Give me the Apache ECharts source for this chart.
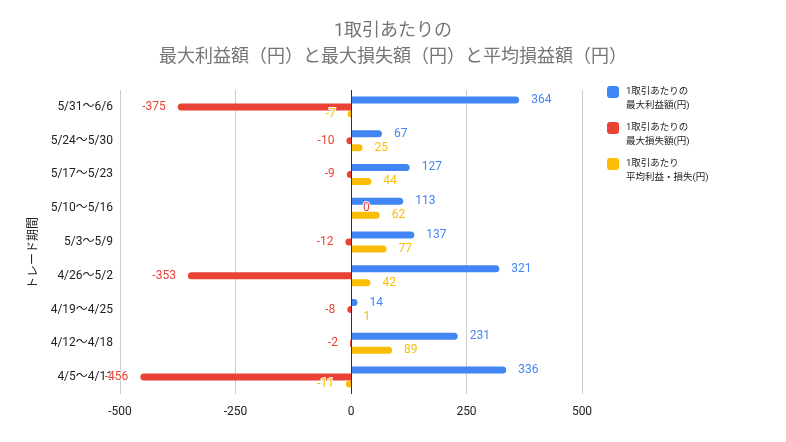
<!DOCTYPE html>
<html>
<head>
<meta charset="utf-8">
<script src="https://cdn.jsdelivr.net/npm/echarts@6/dist/echarts.min.js"></script>
<style>
  html, body { margin: 0; padding: 0; background: #fff; }
  #chart { width: 786px; height: 442px; }
</style>
</head>
<body>
<div id="chart"></div>
<script>
const periods = ["5/31〜6/6", "5/24〜5/30", "5/17〜5/23", "5/10〜5/16", "5/3〜5/9", "4/26〜5/2", "4/19〜4/25", "4/12〜4/18", "4/5〜4/11"];
const maxProfit = [364, 67, 127, 113, 137, 321, 14, 231, 336];
const maxLoss = [-375, -10, -9, 0, -12, -353, -8, -2, -456];
const avgProfitLoss = [-7, 25, 44, 62, 77, 42, 1, 89, -11];
// leading blank line so the legend icon lines up with the first text line
const seriesNames = ["\n1取引あたりの\n最大利益額(円)", "\n1取引あたりの\n最大損失額(円)", "\n1取引あたり\n平均利益・損失(円)"];
const seriesColors = ["#4285f4", "#ea4335", "#fbbc04"];

const fontFamily = "Roboto, 'Noto Sans CJK JP', sans-serif";
const chart = echarts.init(document.getElementById("chart"));

function barData(values) {
  return values.map((v) => {
    const neg = v < 0;
    return {
      value: v,
      itemStyle: { borderRadius: neg ? [4, 0, 0, 4] : [0, 4, 4, 0] },
      label: { position: neg ? "left" : "right" },
    };
  });
}

function makeSeries(name, values, color, idx) {
  const s = {
    name: name,
    type: "bar",
    data: barData(values),
    barWidth: 7,
    barGap: "0%",
    itemStyle: { color: color },
    label: {
      show: true,
      distance: 12,
      color: color,
      fontSize: 12,
      fontFamily: fontFamily,
      textBorderColor: "#fff",
      textBorderWidth: 2,
    },
  };
  if (idx === 0) {
    // zero line drawn separately since the category labels sit at the left
    s.markLine = {
      silent: true,
      symbol: "none",
      label: { show: false },
      lineStyle: { color: "#333", width: 1, type: "solid" },
      data: [{ xAxis: 0 }],
      animation: false,
    };
  }
  return s;
}

chart.setOption({
  animation: false,
  title: {
    text: "1取引あたりの\n最大利益額（円）と最大損失額（円）と平均損益額（円）",
    left: "center",
    top: 13,
    textStyle: {
      color: "#757575",
      fontSize: 18,
      fontWeight: "normal",
      lineHeight: 26,
      fontFamily: fontFamily,
    },
  },
  legend: {
    orient: "vertical",
    left: 607,
    top: 71,
    padding: 0,
    itemWidth: 12,
    itemHeight: 12,
    itemGap: -6,
    icon: "roundRect",
    textStyle: {
      fontSize: 9.5,
      color: "#222",
      lineHeight: 14,
      padding: [0, 0, 0, 2],
      fontFamily: fontFamily,
    },
    data: seriesNames,
  },
  grid: {
    left: 120,
    right: 204,
    top: 90,
    bottom: 48,
  },
  xAxis: {
    type: "value",
    min: -500,
    max: 500,
    interval: 250,
    axisLine: { show: false },
    axisTick: { show: false },
    axisLabel: { color: "#222", fontSize: 12, margin: 12, fontFamily: fontFamily },
    splitLine: { lineStyle: { color: "#cccccc" } },
  },
  yAxis: {
    type: "category",
    data: periods,
    inverse: true,
    name: "トレード期間",
    nameLocation: "middle",
    nameGap: 68,
    nameRotate: 90,
    nameTextStyle: { color: "#222", fontSize: 12, fontFamily: fontFamily, padding: [0, 22, 0, 0] },
    axisLine: { show: false, onZero: false },
    axisTick: { show: false },
    axisLabel: { color: "#222", fontSize: 12, margin: 7, fontFamily: fontFamily },
  },
  series: [
    makeSeries(seriesNames[0], maxProfit, seriesColors[0], 0),
    makeSeries(seriesNames[1], maxLoss, seriesColors[1], 1),
    makeSeries(seriesNames[2], avgProfitLoss, seriesColors[2], 2),
  ],
});
</script>
</body>
</html>
